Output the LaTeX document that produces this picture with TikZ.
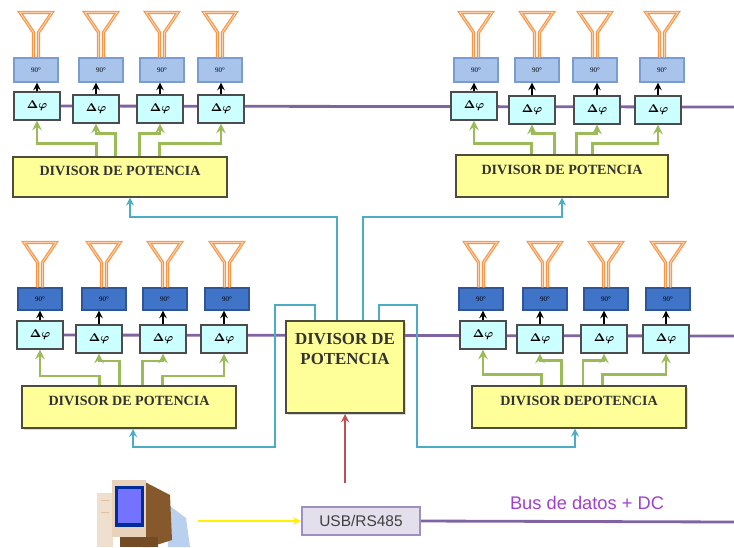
\documentclass[tikz,border=0pt]{standalone}
\usepackage{fontspec}
\setmainfont{Liberation Serif}
\setsansfont{Liberation Sans}
\usetikzlibrary{backgrounds,shadows}

\definecolor{antorange}{HTML}{F79646}
\definecolor{hyblight}{HTML}{A9C4EB}
\definecolor{hybedge}{HTML}{7A9CD0}
\definecolor{hybdark}{HTML}{3F74C8}
\definecolor{hybdarkedge}{HTML}{2F5597}
\definecolor{phasefill}{HTML}{CCFFFF}
\definecolor{divfill}{HTML}{FFFF99}
\definecolor{divedge}{HTML}{4D4D3A}
\definecolor{feedgreen}{HTML}{9BBB59}
\definecolor{cablecyan}{HTML}{4BACC6}
\definecolor{powerred}{HTML}{C0504D}
\definecolor{buspurple}{HTML}{8064A2}
\definecolor{buslabel}{HTML}{A040D0}
\definecolor{usbfill}{HTML}{E4DFEC}
\definecolor{usbedge}{HTML}{9F8FBF}

\begin{document}
\begin{tikzpicture}[
  x=0.025cm, y=-0.025cm,
  hybrid/.style={draw=hybedge, fill=hyblight, line width=0.8pt, minimum width=1.1cm, minimum height=0.6cm, inner sep=0pt, font=\fontsize{5}{6}\selectfont,
    drop shadow={shadow xshift=0.8pt, shadow yshift=-0.8pt, opacity=0.25}},
  hybdark/.style={hybrid, draw=hybdarkedge, fill=hybdark, minimum height=0.55cm},
  phase/.style={draw=black!70, fill=phasefill, line width=1.4pt, minimum width=1.15cm, minimum height=0.68cm, inner sep=0pt, font=\footnotesize\boldmath},
  divider/.style={draw=divedge, fill=divfill, line width=1.4pt, text depth=0.3cm, font=\bfseries\fontsize{10}{12}\selectfont, text=black!80,
    drop shadow={shadow xshift=1.2pt, shadow yshift=-1.2pt, opacity=0.3}},
  arrow/.style={->, line width=1.4pt, >=stealth},
  feed/.style={->, >=stealth, line width=2pt, draw=feedgreen},
  cable/.style={->, >=stealth, line width=1.5pt, draw=cablecyan},
  power/.style={->, >=stealth, line width=1.6pt, draw=powerred},
  bus/.style={line width=2pt, draw=buspurple},
  antenna/.pic={
    \draw[antorange, line width=0.8pt, double=antorange!45, double distance=0.7pt, line join=miter]
      (-2.5,0) -- (-2.5,-25) -- (-16,-45) -- (16,-45) -- (2.5,-25) -- (2.5,0);
  }
]
  \useasboundingbox (0,0) rectangle (734,547);

  % Upper left panel
  \node[hybrid] (nw-h1) at (36,70) {90°};
  \node[hybrid] (nw-h2) at (101,70) {90°};
  \node[hybrid] (nw-h3) at (162,70) {90°};
  \node[hybrid] (nw-h4) at (220,70) {90°};
  \node[phase] (nw-p1) at (37,106) {$\Delta\varphi$};
  \node[phase] (nw-p2) at (96,109) {$\Delta\varphi$};
  \node[phase] (nw-p3) at (160,109) {$\Delta\varphi$};
  \node[phase] (nw-p4) at (221,109) {$\Delta\varphi$};
  \node[divider, minimum width=5.33cm, minimum height=0.98cm] (nw-div) at (120,177) {DIVISOR DE POTENCIA};

  % Upper right panel
  \node[hybrid] (ne-h1) at (476,70) {90°};
  \node[hybrid] (ne-h2) at (537,70) {90°};
  \node[hybrid] (ne-h3) at (595,70) {90°};
  \node[hybrid] (ne-h4) at (662,70) {90°};
  \node[phase] (ne-p1) at (474,106) {$\Delta\varphi$};
  \node[phase] (ne-p2) at (532,110) {$\Delta\varphi$};
  \node[phase] (ne-p3) at (597,110) {$\Delta\varphi$};
  \node[phase] (ne-p4) at (658,110) {$\Delta\varphi$};
  \node[divider, minimum width=5.28cm, minimum height=1.03cm] (ne-div) at (562,176) {DIVISOR DE POTENCIA};

  % Lower left panel
  \node[hybdark] (sw-h1) at (40,299) {90°};
  \node[hybdark] (sw-h2) at (104,299) {90°};
  \node[hybdark] (sw-h3) at (165,299) {90°};
  \node[hybdark] (sw-h4) at (227,299) {90°};
  \node[phase] (sw-p1) at (40,335) {$\Delta\varphi$};
  \node[phase] (sw-p2) at (99,339) {$\Delta\varphi$};
  \node[phase] (sw-p3) at (163,339) {$\Delta\varphi$};
  \node[phase] (sw-p4) at (224,339) {$\Delta\varphi$};
  \node[divider, minimum width=5.33cm, minimum height=1.05cm] (sw-div) at (129,407) {DIVISOR DE POTENCIA};

  % Lower right panel
  \node[hybdark] (se-h1) at (481,299) {90°};
  \node[hybdark] (se-h2) at (545,299) {90°};
  \node[hybdark] (se-h3) at (606,299) {90°};
  \node[hybdark] (se-h4) at (668,299) {90°};
  \node[phase] (se-p1) at (483,335) {$\Delta\varphi$};
  \node[phase] (se-p2) at (540,339) {$\Delta\varphi$};
  \node[phase] (se-p3) at (604,339) {$\Delta\varphi$};
  \node[phase] (se-p4) at (666,339) {$\Delta\varphi$};
  \node[divider, minimum width=5.35cm, minimum height=1.03cm] (se-div) at (579,407) {DIVISOR DEPOTENCIA};

  % Main divider, interface and PC
  \node[divider, minimum width=2.95cm, minimum height=2.3cm, text depth=0pt,
    label={[anchor=north, align=center, yshift=-0.22cm, font=\bfseries\fontsize{12}{14}\selectfont, text=black!80]north:DIVISOR DE\\POTENCIA}] (div) at (345,367) {};
  \node[draw=usbedge, fill=usbfill, line width=1.5pt, minimum width=2.95cm, minimum height=0.68cm, font=\sffamily\fontsize{11}{13}\selectfont, text=black!75,
    drop shadow={shadow xshift=1pt, shadow yshift=-1pt, opacity=0.25}] (usb) at (361,521) {USB/RS485};
  \node[minimum width=2.55cm, minimum height=1.68cm, inner sep=0pt] (pc) at (147,513) {};
  \node[text=buslabel, font=\sffamily\fontsize{13}{15}\selectfont] (buslbl) at (587,503) {Bus de datos + DC};
  \coordinate (supply) at (345,483);
  \coordinate (bus-top) at (734,107);
  \coordinate (bus-mid) at (734,336);
  \coordinate (bus-low) at (734,522);

  % PC icon
  \fill[hyblight!80] (166,503) -- (186,518) -- (190,547) -- (168,547) -- cycle;
  \fill[brown!70!black] (143,481) -- (170,495) -- (172,540) -- (150,547) -- (143,547) -- cycle;
  \fill[brown!25!white] (97,493) rectangle (113,547);
  \draw[brown!50, line width=0.6pt] (101,500) -- (109,500) (101,512) -- (109,512);
  \fill[brown!35!white] (112,480) rectangle (146,537);
  \fill[blue!70!cyan!60!black] (115,486) rectangle (144,527);
  \fill[blue!55!white] (118,489) rectangle (141,523);
  \fill[brown!60!black] (120,537) rectangle (158,547);

  % Antennas
  \pic at (nw-h1.north) {antenna};
  \pic at (nw-h2.north) {antenna};
  \pic at (nw-h3.north) {antenna};
  \pic at (nw-h4.north) {antenna};
  \pic at (ne-h1.north) {antenna};
  \pic at (ne-h2.north) {antenna};
  \pic at (ne-h3.north) {antenna};
  \pic at (ne-h4.north) {antenna};
  \pic at (sw-h1.north) {antenna};
  \pic at (sw-h2.north) {antenna};
  \pic at (sw-h3.north) {antenna};
  \pic at (sw-h4.north) {antenna};
  \pic at (se-h1.north) {antenna};
  \pic at (se-h2.north) {antenna};
  \pic at (se-h3.north) {antenna};
  \pic at (se-h4.north) {antenna};

  % Phase shifter outputs
  \draw[arrow] (nw-p1.north) -- (nw-p1.north |- nw-h1.south);
  \draw[arrow] (nw-p2.north) -- (nw-p2.north |- nw-h2.south);
  \draw[arrow] (nw-p3.north) -- (nw-p3.north |- nw-h3.south);
  \draw[arrow] (nw-p4.north) -- (nw-p4.north |- nw-h4.south);
  \draw[arrow] (ne-p1.north) -- (ne-p1.north |- ne-h1.south);
  \draw[arrow] (ne-p2.north) -- (ne-p2.north |- ne-h2.south);
  \draw[arrow] (ne-p3.north) -- (ne-p3.north |- ne-h3.south);
  \draw[arrow] (ne-p4.north) -- (ne-p4.north |- ne-h4.south);
  \draw[arrow] (sw-p1.north) -- (sw-p1.north |- sw-h1.south);
  \draw[arrow] (sw-p2.north) -- (sw-p2.north |- sw-h2.south);
  \draw[arrow] (sw-p3.north) -- (sw-p3.north |- sw-h3.south);
  \draw[arrow] (sw-p4.north) -- (sw-p4.north |- sw-h4.south);
  \draw[arrow] (se-p1.north) -- (se-p1.north |- se-h1.south);
  \draw[arrow] (se-p2.north) -- (se-p2.north |- se-h2.south);
  \draw[arrow] (se-p3.north) -- (se-p3.north |- se-h3.south);
  \draw[arrow] (se-p4.north) -- (se-p4.north |- se-h4.south);

  % Feeds from the dividers
  \draw[feed] ([xshift=-0.59cm]nw-div.north) -- ++(0,-13) -| (nw-p1.south);
  \draw[feed] ([xshift=-0.11cm]nw-div.north) -- ++(0,-23) -| (nw-p2.south);
  \draw[feed] ([xshift=0.49cm]nw-div.north) -- ++(0,-23) -| (nw-p3.south);
  \draw[feed] ([xshift=0.99cm]nw-div.north) -- ++(0,-13) -| (nw-p4.south);
  \draw[feed] ([xshift=-0.76cm]ne-div.north) -- ++(0,-11) -| (ne-p1.south);
  \draw[feed] ([xshift=-0.19cm]ne-div.north) -- ++(0,-21) -| (ne-p2.south);
  \draw[feed] ([xshift=0.36cm]ne-div.north) -- ++(0,-21) -| (ne-p3.south);
  \draw[feed] ([xshift=0.76cm]ne-div.north) -- ++(0,-11) -| (ne-p4.south);
  \draw[feed] ([xshift=-0.74cm]sw-div.north) -- ++(0,-9) -| (sw-p1.south);
  \draw[feed] ([xshift=-0.24cm]sw-div.north) -- ++(0,-24) -| (sw-p2.south);
  \draw[feed] ([xshift=0.34cm]sw-div.north) -- ++(0,-24) -| (sw-p3.south);
  \draw[feed] ([xshift=0.84cm]sw-div.north) -- ++(0,-9) -| (sw-p4.south);
  \draw[feed] ([xshift=-0.93cm]se-div.north) -- ++(0,-11) -| (se-p1.south);
  \draw[feed] ([xshift=-0.43cm]se-div.north) -- ++(0,-25) -| (se-p2.south);
  \draw[feed] ([xshift=0.10cm]se-div.north) -- ++(0,-25) -| (se-p3.south);
  \draw[feed] ([xshift=0.58cm]se-div.north) -- ++(0,-11) -| (se-p4.south);

  % Main divider to panel dividers
  \draw[cable] ([xshift=-0.2cm]div.north) -- ++(0,-103) -| ([xshift=0.25cm]nw-div.south);
  \draw[cable] ([xshift=0.45cm]div.north) -- ++(0,-103) -| (ne-div.south);
  \draw[cable] ([xshift=-0.75cm]div.north) -- ++(0,-15) -- ++(-40,0) -- ++(0,142) -| ([xshift=0.1cm]sw-div.south);
  \draw[cable] ([xshift=0.85cm]div.north) -- ++(0,-15) -- ++(38,0) -- ++(0,142) -| ([xshift=-0.1cm]se-div.south);
  \draw[power] (supply) -- (div.south);

  % Data bus
  \draw[->, >=stealth, line width=1.5pt, draw=yellow] (pc.east |- usb) -- (usb.west);
  \draw[bus] (usb.east) -- (bus-low);
  \begin{scope}[on background layer]
    \draw[bus] (nw-p1.east) -- (bus-top);
    \draw[bus] (sw-p1.east) -- (bus-mid);
  \end{scope}
\end{tikzpicture}
\end{document}
